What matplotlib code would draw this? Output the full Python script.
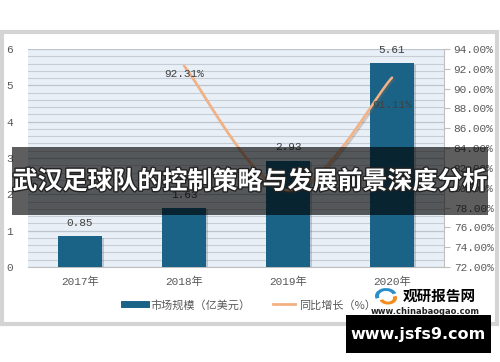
import numpy as np
import matplotlib
matplotlib.use("Agg")
import matplotlib.pyplot as plt
from matplotlib.patches import Rectangle, Wedge
from matplotlib.lines import Line2D
import matplotlib.patheffects as pe

# ---- data ----
categories = ["2017年", "2018年", "2019年", "2020年"]
market_size = [0.85, 1.63, 2.93, 5.61]          # 市场规模（亿美元）
growth_years = ["2018年", "2019年", "2020年"]
growth = [92.31, 79.75, 91.11]                  # 同比增长（%）
left_ticks = [0, 1, 2, 3, 4, 5, 6]
right_ticks = [72, 74, 76, 78, 80, 82, 84, 86, 88, 90, 92, 94]
title = "武汉足球队的控制策略与发展前景深度分析"
legend_labels = ["市场规模（亿美元）", "同比增长（%）"]

W, H = 500, 362
fig = plt.figure(figsize=(W / 100, H / 100), dpi=100)
fig.patch.set_facecolor("white")

def fx(x):
    return x / W

def fy(y):
    return 1 - y / H

NUM = ["Liberation Mono", "Noto Sans CJK SC"]
CJK = ["Noto Sans CJK SC", "DejaVu Sans"]
BAR_C = "#1B6386"
LINE_C = "#F4B183"
TXT = "#595959"

# outer frame
fig.patches.append(Rectangle((fx(2), fy(324)), fx(497) - fx(2), fy(32) - fy(324),
                             transform=fig.transFigure, facecolor="white",
                             edgecolor="#D4D4D4", lw=3, zorder=-5))

ax = fig.add_axes([fx(28), fy(267), fx(444) - fx(28), fy(49) - fy(267)])
ax.set_zorder(1)
ax.set_facecolor("#E8EFF7")
x = np.arange(len(categories))
bars = ax.bar(x, market_size, width=0.43, color=BAR_C, zorder=3,
              path_effects=[pe.SimplePatchShadow(offset=(1.5, -1), shadow_rgbFace="#6b7b88", alpha=0.35), pe.Normal()])
ax.set_xlim(-0.5, len(categories) - 0.5)
ax.set_ylim(0, 6)
ax.set_yticks(left_ticks)
ax.set_yticklabels([str(t) for t in left_ticks], family=NUM, fontsize=8, color=TXT)
ax.set_yticks(np.arange(0, 6.01, 0.2), minor=True)
ax.grid(True, axis="y", which="major", color="#BCC4CD", lw=0.9)
ax.grid(True, axis="y", which="minor", color="#C6CDD5", lw=0.8)
ax.set_axisbelow(True)
ax.tick_params(axis="y", which="both", length=0, pad=11)
ax.set_xticks(x)
ax.set_xticklabels(categories, family=NUM, fontsize=8, color=TXT)
ax.tick_params(axis="x", length=0, pad=7)
for s in ["top", "left", "right"]:
    ax.spines[s].set_visible(False)
ax.spines["bottom"].set_color("#BFBFBF")

for xi, v in zip(x, market_size):
    ax.annotate(f"{v:.2f}", (xi, v), xytext=(0, 9.5), textcoords="offset points",
                ha="center", va="center", family=NUM, fontsize=8, color="#404040", zorder=5)

ax2 = ax.twinx()
ax2.set_zorder(2)
ax2.patch.set_visible(False)
ax2.set_ylim(72, 94)
ax2.set_yticks(right_ticks)
ax2.set_yticklabels([f"{t:.2f}%" for t in right_ticks], family=NUM, fontsize=8, color=TXT)
ax2.tick_params(axis="y", length=4, color="#BFBFBF", pad=3)
for s in ["top", "left", "bottom"]:
    ax2.spines[s].set_visible(False)
ax2.spines["right"].set_color("#BFBFBF")

# smoothed line (Catmull-Rom through data points)
gx = np.array([categories.index(c) for c in growth_years], dtype=float)
gy = np.array(growth, dtype=float)
P = np.column_stack([gx, gy])
Pext = np.vstack([P[0], P, P[-1]])
pts = []
t = np.linspace(0, 1, 40)[:, None]
for i in range(1, len(Pext) - 2):
    p0, p1, p2, p3 = Pext[i - 1], Pext[i], Pext[i + 1], Pext[i + 2]
    c1 = p1 + (p2 - p0) / 6
    c2 = p2 - (p3 - p1) / 6
    seg = ((1 - t) ** 3) * p1 + 3 * ((1 - t) ** 2) * t * c1 + 3 * (1 - t) * t ** 2 * c2 + t ** 3 * p2
    pts.append(seg)
pts = np.vstack(pts)
ax2.plot(pts[:, 0], pts[:, 1], color=LINE_C, lw=1.8, zorder=4, solid_capstyle="round",
         path_effects=[pe.SimpleLineShadow(offset=(1, -1.5), shadow_color="#8a6a50", alpha=0.3), pe.Normal()])
offs = [(0, -6), (0, 8), (0, -20)]
for xi, v, o in zip(gx, gy, offs):
    ax2.annotate(f"{v:.2f}%", (xi, v), xytext=o, textcoords="offset points",
                 ha="center", va="center", family=NUM, fontsize=8, color="#404040", zorder=5)

# legend
handles = [Line2D([], [], color=BAR_C, lw=5), Line2D([], [], color=LINE_C, lw=2)]
leg = fig.legend(handles, legend_labels, loc="center", bbox_to_anchor=(fx(250), fy(305)),
                 ncol=2, frameon=True, prop={"family": CJK, "size": 8}, handlelength=2.0,
                 columnspacing=2.0, borderpad=0.4, handletextpad=0.35)
leg.set_zorder(5)
leg.get_frame().set_edgecolor("white")
leg.get_frame().set_facecolor("white")
leg.get_frame().set_boxstyle("square")
for txt in leg.get_texts():
    txt.set_color(TXT)

# title banner
fig.patches.append(Rectangle((fx(12), fy(215)), fx(488) - fx(12), fy(147) - fy(215),
                             transform=fig.transFigure, facecolor="black", alpha=0.63,
                             edgecolor="none", zorder=10))
fig.text(fx(250), fy(182), title, ha="center", va="center", color="white",
         family=CJK, fontsize=18, fontweight="bold", zorder=11,
         path_effects=[pe.withStroke(linewidth=2, foreground="#222222")])

# logo
fig.patches.append(Wedge((fx(386), fy(296)), 0.022, 20, 200, width=0.008,
                         transform=fig.transFigure, facecolor="#2A8FC8", zorder=12))
fig.patches.append(Wedge((fx(388), fy(298)), 0.018, 200, 380, width=0.008,
                         transform=fig.transFigure, facecolor="#F28C1E", zorder=12))
fig.text(fx(439), fy(296), "观研报告网", ha="center", va="center", family=CJK,
         fontsize=10.5, fontweight="bold", color="black", zorder=12)
fig.text(fx(425), fy(311), "www.chinabaogao.com", ha="center", va="center",
         family="DejaVu Sans", fontsize=6, fontweight="bold", color="#222222", zorder=12)

# watermark box
fig.patches.append(Rectangle((fx(346), fy(353)), fx(491) - fx(346), fy(315) - fy(353),
                             transform=fig.transFigure, facecolor="black",
                             edgecolor="none", zorder=13))
fig.text(fx(418), fy(335), "www.jsfs9.com", ha="center", va="center", color="white",
         family="DejaVu Sans", fontsize=11.5, fontweight="bold", zorder=14)

fig.savefig("out.png", dpi=100, facecolor="white")
